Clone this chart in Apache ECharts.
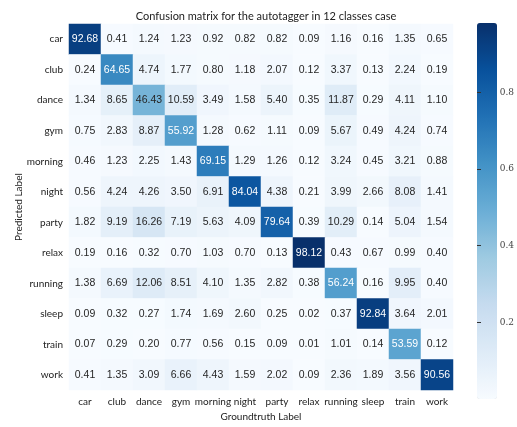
<!DOCTYPE html>
<html>
<head>
<meta charset="utf-8">
<script src="https://cdn.jsdelivr.net/npm/echarts@6/dist/echarts.min.js"></script>
<style>
  html, body { margin: 0; padding: 0; background: #fff; }
  #main { width: 517px; height: 427px; }
</style>
</head>
<body>
<div id="main"></div>
<script>
// 行 = 预测标签, 列 = 真实标签 (百分比)
var classes = ['car', 'club', 'dance', 'gym', 'morning', 'night', 'party', 'relax', 'running', 'sleep', 'train', 'work'];

var rowCar     = [92.68, 0.41, 1.24, 1.23, 0.92, 0.82, 0.82, 0.09, 1.16, 0.16, 1.35, 0.65];
var rowClub    = [0.24, 64.65, 4.74, 1.77, 0.80, 1.18, 2.07, 0.12, 3.37, 0.13, 2.24, 0.19];
var rowDance   = [1.34, 8.65, 46.43, 10.59, 3.49, 1.58, 5.40, 0.35, 11.87, 0.29, 4.11, 1.10];
var rowGym     = [0.75, 2.83, 8.87, 55.92, 1.28, 0.62, 1.11, 0.09, 5.67, 0.49, 4.24, 0.74];
var rowMorning = [0.46, 1.23, 2.25, 1.43, 69.15, 1.29, 1.26, 0.12, 3.24, 0.45, 3.21, 0.88];
var rowNight   = [0.56, 4.24, 4.26, 3.50, 6.91, 84.04, 4.38, 0.21, 3.99, 2.66, 8.08, 1.41];
var rowParty   = [1.82, 9.19, 16.26, 7.19, 5.63, 4.09, 79.64, 0.39, 10.29, 0.14, 5.04, 1.54];
var rowRelax   = [0.19, 0.16, 0.32, 0.70, 1.03, 0.70, 0.13, 98.12, 0.43, 0.67, 0.99, 0.40];
var rowRunning = [1.38, 6.69, 12.06, 8.51, 4.10, 1.35, 2.82, 0.38, 56.24, 0.16, 9.95, 0.40];
var rowSleep   = [0.09, 0.32, 0.27, 1.74, 1.69, 2.60, 0.25, 0.02, 0.37, 92.84, 3.64, 2.01];
var rowTrain   = [0.07, 0.29, 0.20, 0.77, 0.56, 0.15, 0.09, 0.01, 1.01, 0.14, 53.59, 0.12];
var rowWork    = [0.41, 1.35, 3.09, 6.66, 4.43, 1.59, 2.02, 0.09, 2.36, 1.89, 3.56, 90.56];

var rows = [rowCar, rowClub, rowDance, rowGym, rowMorning, rowNight, rowParty, rowRelax, rowRunning, rowSleep, rowTrain, rowWork];

var colorbarTicks = [0.2, 0.4, 0.6, 0.8];

var blues = ['#f7fbff', '#deebf7', '#c6dbef', '#9ecae1', '#6baed6', '#4292c6', '#2171b5', '#08519c', '#08306b'];

var heatData = [];
var vmin = Infinity, vmax = -Infinity;
for (var r = 0; r < rows.length; r++) {
    for (var c = 0; c < rows[r].length; c++) {
        heatData.push([c, r, rows[r][c]]);
        vmin = Math.min(vmin, rows[r][c]);
        vmax = Math.max(vmax, rows[r][c]);
    }
}

var labelFont = 'Lato, "DejaVu Sans", sans-serif';

var myChart = echarts.init(document.getElementById('main'));

var option = {
    backgroundColor: '#ffffff',
    animation: false,
    title: {
        text: 'Confusion matrix for the autotagger in 12 classes case',
        left: 261,
        textAlign: 'center',
        top: 6,
        textStyle: { fontFamily: labelFont, fontSize: 11, fontWeight: 'normal', color: '#222' }
    },
    grid: [
        { left: 69, top: 24, width: 384, height: 375 },
        { left: 477, top: 23, width: 20, height: 376 }
    ],
    xAxis: [{
        type: 'category',
        gridIndex: 0,
        data: classes,
        axisLine: { show: false },
        axisTick: { show: false },
        axisLabel: { fontFamily: labelFont, fontSize: 10, color: '#222', margin: 7, interval: 0 },
        name: 'Groundtruth Label',
        nameLocation: 'middle',
        nameGap: 19,
        nameTextStyle: { fontFamily: labelFont, fontSize: 10, color: '#222' }
    }, {
        type: 'value',
        gridIndex: 1,
        show: false,
        min: 0,
        max: 1
    }],
    yAxis: [{
        type: 'category',
        gridIndex: 0,
        data: classes,
        inverse: true,
        axisLine: { show: false },
        axisTick: { show: false },
        axisLabel: { fontFamily: labelFont, fontSize: 10, color: '#222', margin: 6, interval: 0 },
        name: 'Predicted Label',
        nameLocation: 'middle',
        nameGap: 45,
        nameMoveOverlap: false,
        nameTextStyle: { fontFamily: labelFont, fontSize: 10, color: '#222' }
    }, {
        type: 'value',
        gridIndex: 1,
        position: 'right',
        z: 10,
        min: 0,
        max: vmax / 100,
        splitLine: { show: false },
        axisLine: { show: false },
        axisTick: { show: true, length: 4, inside: false, customValues: colorbarTicks, lineStyle: { color: '#333', width: 1 } },
        axisLabel: {
            fontFamily: '"DejaVu Serif", serif',
            fontSize: 9,
            color: '#444',
            margin: 3,
            customValues: colorbarTicks,
            formatter: function(v) { return v.toFixed(1); }
        }
    }],
    visualMap: {
        type: 'continuous',
        seriesIndex: 0,
        dimension: 2,
        min: vmin,
        max: vmax,
        calculable: false,
        show: true,
        orient: 'vertical',
        left: 477,
        top: 23,
        padding: 0,
        itemWidth: 20,
        itemHeight: 376,
        text: null,
        inRange: { color: blues }
    },
    series: [{
        type: 'heatmap',
        xAxisIndex: 0,
        yAxisIndex: 0,
        data: heatData,
        label: {
            show: true,
            fontFamily: '"Liberation Sans", sans-serif',
            fontSize: 10.5,
            formatter: function(p) {
                var v = p.value[2];
                return (v > 50 ? '{w|' : '{d|') + v.toFixed(2) + '}';
            },
            rich: {
                w: { color: '#ffffff', fontFamily: '"Liberation Sans", sans-serif', fontSize: 10.5 },
                d: { color: '#262626', fontFamily: '"Liberation Sans", sans-serif', fontSize: 10.5 }
            }
        },
        itemStyle: { borderWidth: 0 },
        emphasis: { disabled: true }
    }]
};

myChart.setOption(option);
</script>
</body>
</html>
